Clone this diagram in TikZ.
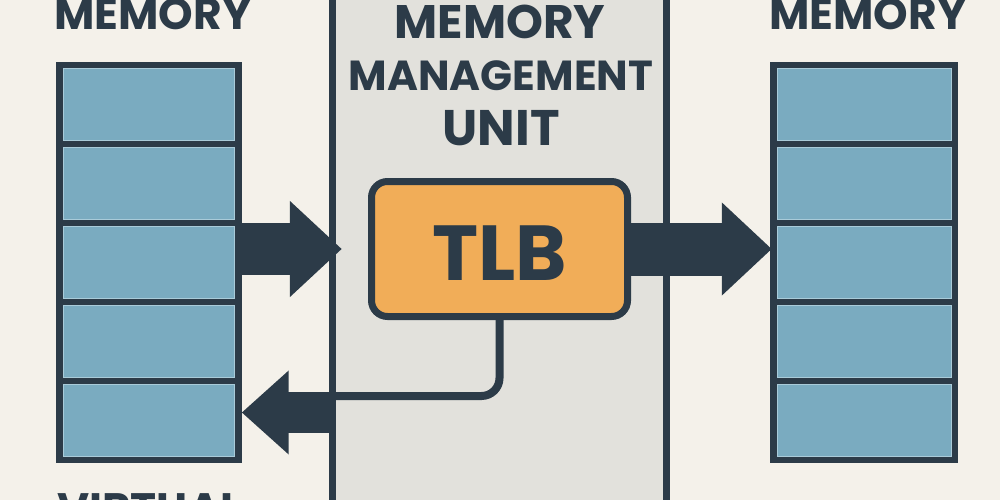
\documentclass[tikz,border=0pt]{standalone}
\usepackage{fontspec}
\setmainfont{Poppins}
\usetikzlibrary{arrows.meta,calc}
\definecolor{bg}{HTML}{F4F1EA}
\definecolor{ink}{HTML}{2C3B48}
\definecolor{mmufill}{HTML}{E2E1DC}
\definecolor{cellfill}{HTML}{7AABC0}
\definecolor{cellrim}{HTML}{A9CBD9}
\definecolor{tlbfill}{HTML}{F1AD58}
\tikzset{
  memblock/.style={fill=ink, inner sep=0pt, minimum width=186pt, minimum height=401pt},
  cellbox/.style={fill=cellfill, draw=cellrim, line width=1pt, inner sep=0pt, minimum width=171pt, minimum height=72pt},
  title/.style={text=ink, font=\bfseries\fontsize{44}{50}\selectfont, inner sep=0pt, anchor=base},
  fat/.style={draw=ink, line cap=butt},
}
\begin{document}
\begin{tikzpicture}[x=1pt,y=-1pt]
\fill[bg] (0,0) rectangle (1000,500);
\useasboundingbox (0,0) rectangle (1000,500);
\clip (0,0) rectangle (1000,500);

% MMU column
\node[fill=mmufill, inner sep=0pt, minimum width=333pt, minimum height=520pt] (mmu) at (499.5,250) {};
\draw[ink, line width=7pt] (mmu.north west) -- (mmu.south west);
\draw[ink, line width=7pt] (mmu.north east) -- (mmu.south east);

% titles
\node[title] (vtitle) at (153,30) {MEMORY};
\node[title] (ptitle) at (868,30) {MEMORY};
\node[title, anchor=base west] (vbottom) at (57,524) {VIRTUAL};
\node[title, font=\bfseries\fontsize{47}{50}\selectfont] (m1) at (500,39) {MEMORY};
\node[title, font=\bfseries\fontsize{42}{50}\selectfont] (m2) at (501,91) {MANAGEMENT};
\node[title, font=\bfseries\fontsize{50}{50}\selectfont] (m3) at (501,145) {UNIT};

% memory blocks
\node[memblock] (vmem) at (148.5,262.5) {};
\node[memblock, minimum width=188pt] (pmem) at (864,262.5) {};
\foreach \i in {0,...,4}{
  \node[cellbox] (v\i) at ({149},{104.5+79*\i}) {};
  \node[cellbox, minimum width=174pt] (p\i) at ({864.5},{104.5+79*\i}) {};
}

% TLB
\node[fill=tlbfill, draw=ink, line width=7pt, rounded corners=16pt, inner sep=0pt,
      minimum width=256pt, minimum height=135pt] (tlb) at (499.5,249) {};
\node[text=ink, font=\bfseries\fontsize{78}{80}\selectfont, inner sep=0pt] (tlbtext) at ([yshift=-4.5pt]tlb.center) {TLB};

% return path
\coordinate (ret) at (mmu.west |- 0,412.5);
\draw[ink, line width=8pt, rounded corners=18pt] (tlb.south) |- (mmu.west |- 0,396);

% fat arrows
\draw[fat, line width=52pt, -{Triangle[length=52pt,width=93pt]}]
  (vmem.east |- tlb.west) -- ([xshift=9pt]mmu.west |- tlb.west);
\draw[fat, line width=53pt, -{Triangle[length=50pt,width=90pt]}]
  ([xshift=-4pt]tlb.east) -- ([xshift=2pt]pmem.west |- tlb.east);
\draw[fat, line width=41pt, -{Triangle[length=47pt,width=81pt]}]
  ([xshift=3pt]ret) -- (vmem.east |- ret);
\end{tikzpicture}
\end{document}
